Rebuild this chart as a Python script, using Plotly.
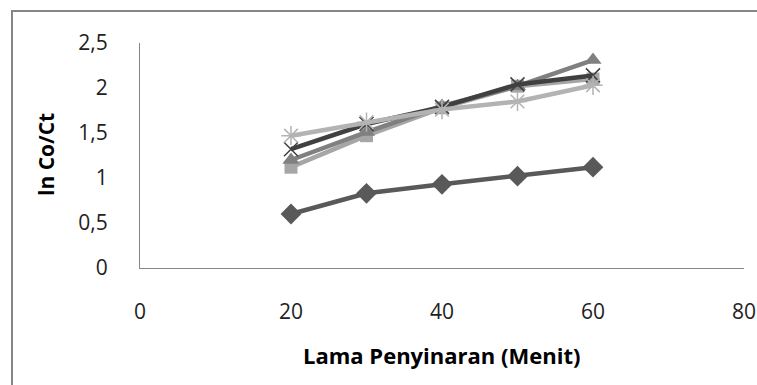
import plotly.graph_objects as go

x_menit = [20, 30, 40, 50, 60]
s_diamond = [0.60, 0.83, 0.93, 1.02, 1.12]
s_square = [1.12, 1.47, 1.78, 2.02, 2.10]
s_triangle = [1.20, 1.51, 1.80, 2.02, 2.31]
s_x = [1.32, 1.60, 1.79, 2.04, 2.14]
s_star = [1.47, 1.62, 1.76, 1.85, 2.03]

y_ticks = [0, 0.5, 1, 1.5, 2, 2.5]
y_ticklabels = ["0", "0,5", "1", "1,5", "2", "2,5"]
x_ticks = [0, 20, 40, 60, 80]

W, H = 757, 385
L, R, T, B = 140, 13, 43, 117
pw, ph = W - L - R, H - T - B

fig = go.Figure()
series = [
    (s_square, "#a6a6a6", dict(symbol="square", size=13)),
    (s_triangle, "#808080", dict(symbol="triangle-up", size=15)),
    (s_x, "#404040", dict(symbol="x-thin-open", size=14, line=dict(width=1.5, color="#404040"))),
    (s_star, "#b3b3b3", dict(symbol="asterisk-open", size=16, line=dict(width=1.5, color="#a6a6a6"))),
    (s_diamond, "#595959", dict(symbol="diamond", size=16)),
]
for ys, col, mk in series:
    m = dict(color=col)
    m.update(mk)
    fig.add_trace(go.Scatter(x=x_menit, y=ys, mode="lines+markers",
                             line=dict(color=col, width=4.5), marker=m,
                             showlegend=False, cliponaxis=False))

font = "Open Sans"
fig.update_layout(
    width=W, height=H, autosize=False,
    margin=dict(l=L, r=R, t=T, b=B),
    paper_bgcolor="white", plot_bgcolor="white",
    separators=",.",
    font=dict(family=font, size=18, color="#000000"),
    xaxis=dict(range=[0, 80], tickvals=x_ticks, showgrid=False, zeroline=False,
               showline=True, linecolor="#868686", linewidth=1, ticks="",
               automargin=False,
               ticklabelstandoff=25, tickfont=dict(size=21, color="#222")),
    yaxis=dict(range=[0, 2.5], tickvals=y_ticks, ticktext=y_ticklabels,
               showgrid=False, zeroline=False, automargin=False,
               showline=True, linecolor="#868686", linewidth=1, ticks="",
               ticklabelstandoff=27, tickfont=dict(size=21, color="#222")),
    shapes=[dict(type="rect", xref="paper", yref="paper",
                 x0=(12 - L) / pw, x1=(W + 10 - L) / pw,
                 y0=-(H + 10 - (H - B)) / ph, y1=((H - B) - 11) / ph,
                 line=dict(color="#868686", width=2), fillcolor="rgba(0,0,0,0)")],
    annotations=[
        dict(text="<b>Lama Penyinaran (Menit)</b>", xref="paper", yref="paper",
             x=(441 - L) / pw, y=-(355 - (H - B)) / ph, showarrow=False,
             xanchor="center", yanchor="middle", font=dict(size=22, family=font)),
        dict(text="<b>ln Co/Ct</b>", xref="paper", yref="paper",
             x=(46 - L) / pw, y=((H - B) - 155) / ph, showarrow=False, textangle=-90,
             xanchor="center", yanchor="middle", font=dict(size=21, family=font)),
    ],
)
fig.write_html(
    "out.html",
    config={"displayModeBar": False, "responsive": False},
    post_script="document.body.style.margin='0';document.body.style.overflow='hidden';",
)
